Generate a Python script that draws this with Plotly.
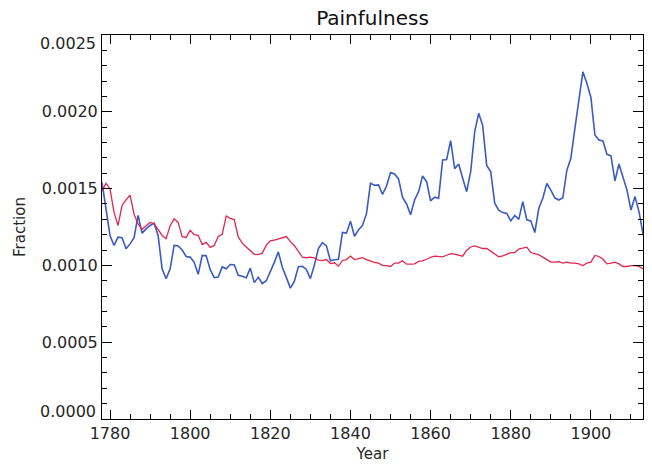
import plotly.graph_objects as go

years = list(range(1778, 1914))

blue_vals = [
    0.001540, 0.001380, 0.001195, 0.001130, 0.001184, 0.001180, 0.001108, 0.001140, 0.001180, 0.001325,
    0.001210, 0.001238, 0.001260, 0.001275, 0.001195, 0.000978, 0.000913, 0.000978, 0.001130, 0.001126,
    0.001100, 0.001058, 0.001054, 0.001020, 0.000942, 0.001065, 0.001063, 0.000972, 0.000920, 0.000924,
    0.000990, 0.000978, 0.001006, 0.001004, 0.000935, 0.000930, 0.000920, 0.000982, 0.000888, 0.000922,
    0.000882, 0.000900, 0.000958, 0.001020, 0.001088, 0.000988, 0.000922, 0.000852, 0.000895, 0.000992,
    0.000994, 0.000974, 0.000914, 0.001002, 0.001110, 0.001148, 0.001127, 0.001030, 0.001037, 0.001040,
    0.001215, 0.001210, 0.001288, 0.001190, 0.001230, 0.001260, 0.001337, 0.001535, 0.001522, 0.001524,
    0.001463, 0.001517, 0.001604, 0.001595, 0.001563, 0.001442, 0.001400, 0.001330, 0.001426, 0.001480,
    0.001582, 0.001545, 0.001420, 0.001444, 0.001437, 0.001686, 0.001690, 0.001812, 0.001630, 0.001660,
    0.001567, 0.001480, 0.001610, 0.001870, 0.001990, 0.001910, 0.001650, 0.001610, 0.001405, 0.001360,
    0.001344, 0.001338, 0.001290, 0.001325, 0.001300, 0.001415, 0.001297, 0.001290, 0.001214, 0.001372,
    0.001437, 0.001534, 0.001490, 0.001440, 0.001426, 0.001440, 0.001620, 0.001697, 0.001890, 0.002076,
    0.002260, 0.002184, 0.002093, 0.001849, 0.001816, 0.001810, 0.001723, 0.001714, 0.001550, 0.001660,
    0.001580, 0.001490, 0.001360, 0.001448, 0.001350, 0.001205,
]

red_vals = [
    0.001485, 0.001535, 0.001498, 0.001345, 0.001260, 0.001390, 0.001427, 0.001458, 0.001333, 0.001270,
    0.001235, 0.001260, 0.001280, 0.001273, 0.001238, 0.001195, 0.001174, 0.001258, 0.001303, 0.001280,
    0.001187, 0.001182, 0.001228, 0.001200, 0.001196, 0.001136, 0.001150, 0.001117, 0.001130, 0.001188,
    0.001203, 0.001322, 0.001306, 0.001298, 0.001185, 0.001145, 0.001120, 0.001094, 0.001072, 0.001070,
    0.001080, 0.001132, 0.001160, 0.001165, 0.001173, 0.001180, 0.001188, 0.001155, 0.001128, 0.001092,
    0.001053, 0.001050, 0.001054, 0.001049, 0.001034, 0.001031, 0.001038, 0.001012, 0.001017, 0.000995,
    0.001032, 0.001038, 0.001061, 0.001038, 0.001044, 0.001050, 0.001038, 0.001028, 0.001020, 0.001015,
    0.001000, 0.000998, 0.000993, 0.001015, 0.001015, 0.001030, 0.001008, 0.001008, 0.001010, 0.001026,
    0.001030, 0.001040, 0.001053, 0.001060, 0.001056, 0.001056, 0.001066, 0.001077, 0.001073, 0.001066,
    0.001060, 0.001099, 0.001120, 0.001127, 0.001120, 0.001110, 0.001110, 0.001093, 0.001073, 0.001056,
    0.001062, 0.001073, 0.001083, 0.001084, 0.001106, 0.001112, 0.001119, 0.001084, 0.001075, 0.001069,
    0.001054, 0.001036, 0.001021, 0.001021, 0.001025, 0.001015, 0.001021, 0.001015, 0.001015, 0.001010,
    0.000999, 0.001015, 0.001021, 0.001065, 0.001058, 0.001041, 0.001010, 0.001015, 0.001021, 0.001010,
    0.000993, 0.000993, 0.000999, 0.000999, 0.000993, 0.000978,
]

x_tick_vals = [1780, 1800, 1820, 1840, 1860, 1880, 1900]
y_tick_vals = [0.0005, 0.0010, 0.0015, 0.0020]
y_end_labels = ["0.0000", "0.0025"]
y_end_vals = [0.0, 0.0025]

title_text = "Painfulness"
x_title = "Year"
y_title = "Fraction"

FONT = "DejaVu Sans"
TXT = "#262626"
X_RANGE = [1778, 1913]
Y_RANGE = [0, 0.0025]

fig = go.Figure()
fig.add_trace(go.Scatter(x=years, y=blue_vals, mode="lines",
                         line=dict(color="#3a5bc4", width=1.6), showlegend=False))
fig.add_trace(go.Scatter(x=years, y=red_vals, mode="lines",
                         line=dict(color="#e3254f", width=1.3), showlegend=False))
# invisible trace to activate the mirrored (top/right) tick axes
fig.add_trace(go.Scatter(x=[years[0]], y=[red_vals[0]], mode="lines", xaxis="x2", yaxis="y2",
                         line=dict(width=0), hoverinfo="skip", showlegend=False))

base = dict(showline=True, linecolor="black", linewidth=1,
            ticks="inside", tickcolor="black", tickwidth=1,
            showgrid=False, zeroline=False, automargin=False)

x_minor = dict(dtick=5, tick0=1780, ticklen=5, ticks="inside", tickcolor="black", tickwidth=1)
y_minor = dict(dtick=0.0001, tick0=0, ticklen=5, ticks="inside", tickcolor="black", tickwidth=1)

fig.update_layout(
    width=652, height=471,
    margin=dict(l=102, r=9, t=35, b=52),
    paper_bgcolor="white", plot_bgcolor="white",
    title=dict(text=title_text, x=0.5, xref="paper", xanchor="center",
               y=1 - 18 / 471, yanchor="middle",
               font=dict(family=FONT, size=20, color="#111")),
    xaxis=dict(range=X_RANGE, tickmode="array", tickvals=x_tick_vals, ticklen=9,
               minor=x_minor, tickfont=dict(family=FONT, size=16, color=TXT),
               title=dict(text=x_title, font=dict(family=FONT, size=15, color=TXT), standoff=6),
               **base),
    yaxis=dict(range=Y_RANGE, tickmode="array", tickvals=y_tick_vals, tickformat=".4f", ticklen=10,
               minor=y_minor, tickfont=dict(family=FONT, size=16, color=TXT),
               title=dict(text=y_title, font=dict(family=FONT, size=15, color=TXT), standoff=12),
               **base),
    xaxis2=dict(range=X_RANGE, overlaying="x", side="top", anchor="y2",
                tickmode="array", tickvals=x_tick_vals, ticklen=9, showticklabels=False,
                minor=x_minor, **base),
    yaxis2=dict(range=Y_RANGE, overlaying="y", side="right", anchor="x2",
                tickmode="array", tickvals=y_tick_vals + y_end_vals, ticklen=10, showticklabels=False,
                minor=y_minor, **base),
)

for lab, val, shift in zip(y_end_labels, y_end_vals, [8, -8]):
    fig.add_annotation(x=0, xref="paper", y=val, yref="y", text=lab, showarrow=False,
                       xanchor="right", yanchor="middle", xshift=-4, yshift=shift,
                       font=dict(family=FONT, size=16, color=TXT))

fig.write_html(
    "out.html",
    config={"displayModeBar": False},
    post_script="document.body.style.margin='0px';document.body.style.padding='0px';"
                "document.body.style.overflow='hidden';",
)
